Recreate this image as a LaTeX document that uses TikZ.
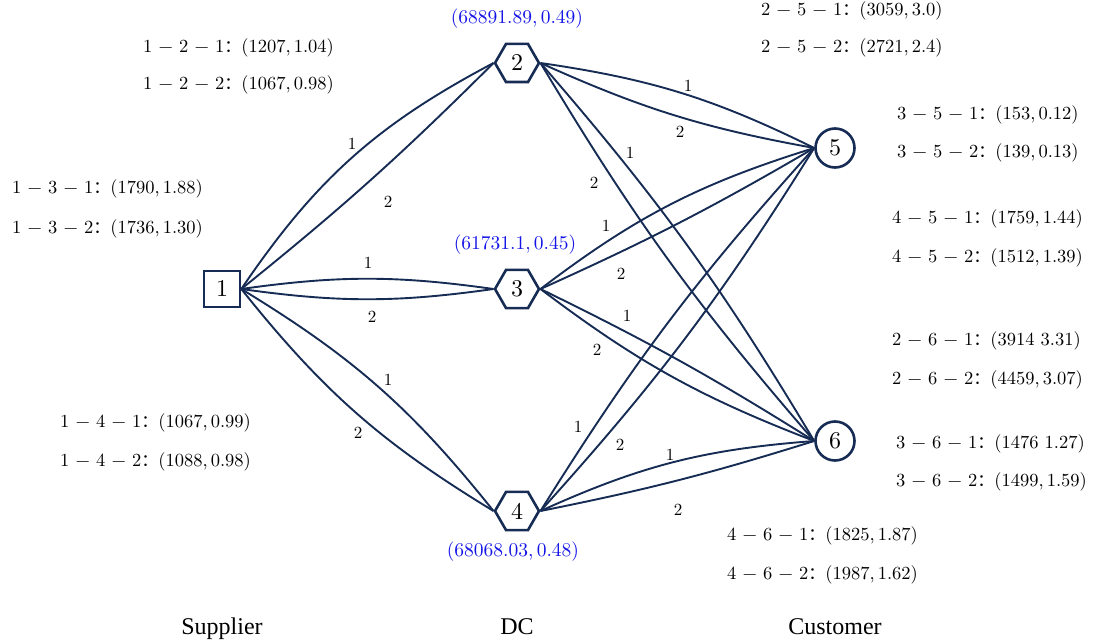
\documentclass[tikz,border=0pt]{standalone}
\usepackage{fontspec}
% one design size, scaled linearly
\setmainfont{lmroman10-regular}[Extension=.otf]
\newfontfamily\cjk{Noto Sans CJK SC}
\newfontfamily\timesfont{Liberation Serif}
\usetikzlibrary{shapes.geometric}
\definecolor{navy}{RGB}{22,44,84}
\definecolor{valblue}{RGB}{20,20,230}
% arc cost/time pair: i - j - k : (cost, time)
\newcommand{\arcval}[4]{#1 − #2 − #3{\cjk\fontsize{17}{20}\selectfont ：}#4}
\tikzset{
  sup/.style={draw=navy, line width=2.6pt, rectangle, minimum size=36pt, inner sep=0pt, font=\fontsize{24}{28}\selectfont},
  dc/.style={draw=navy, line width=2.6pt, regular polygon, regular polygon sides=6, minimum size=44pt, inner sep=0pt, font=\fontsize{24}{28}\selectfont},
  cus/.style={draw=navy, line width=2.6pt, circle, minimum size=39pt, inner sep=0pt, font=\fontsize{24}{28}\selectfont},
  link/.style={draw=navy, line width=1.9pt},
  lab/.style={font=\fontsize{17}{20}\selectfont, inner sep=0pt},
  pair/.style={anchor=west, font=\fontsize{18.5}{22}\selectfont, inner sep=0pt},
  val/.style={text=valblue, font=\fontsize{19.5}{23}\selectfont, inner sep=0pt},
  tier/.style={font=\timesfont\fontsize{24}{28}\selectfont, inner sep=0pt}
}
\begin{document}
\begin{tikzpicture}[x=1pt,y=1pt]
\useasboundingbox (0,0) rectangle (1096,-644);

% nodes
\node[sup] (n1) at (222,-289) {1};
\node[dc]  (n2) at (517,-63)  {2};
\node[dc]  (n3) at (517,-289) {3};
\node[dc]  (n4) at (517,-511) {4};
\node[cus] (n5) at (835,-148) {5};
\node[cus] (n6) at (835,-441) {6};

% supplier -> DC
\draw[link] (n1.east) to[bend left=14] (n2.west);
\draw[link] (n1.east) to[bend right=3] (n2.west);
\draw[link] (n1.east) to[bend left=8] (n3.west);
\draw[link] (n1.east) to[bend right=8] (n3.west);
\draw[link] (n1.east) to[bend left=10] (n4.west);
\draw[link] (n1.east) to[bend right=10] (n4.west);

% DC -> customer
\draw[link] (n2.east) to[bend left=9] (n5.west);
\draw[link] (n2.east) to[bend right=7] (n5.west);
\draw[link] (n2.east) to[bend left=5] (n6.west);
\draw[link] (n2.east) to[bend right=5] (n6.west);
\draw[link] (n3.east) to[bend left=10] (n5.west);
\draw[link] (n3.east) to[bend right=3] (n5.west);
\draw[link] (n3.east) to[bend left=3] (n6.west);
\draw[link] (n3.east) to[bend right=8] (n6.west);
\draw[link] (n4.east) to[bend left=5] (n5.west);
\draw[link] (n4.east) to[bend right=5] (n5.west);
\draw[link] (n4.east) to[bend left=10] (n6.west);
\draw[link] (n4.east) to[bend right=3] (n6.west);

% arc numbers
\node[lab] (l121) at (352,-144) {1};
\node[lab] (l122) at (388,-202) {2};
\node[lab] (l131) at (368,-263) {1};
\node[lab] (l132) at (372,-317) {2};
\node[lab] (l141) at (388,-380) {1};
\node[lab] (l142) at (358,-433) {2};
\node[lab] (l251) at (688,-86)  {1};
\node[lab] (l252) at (680,-132) {2};
\node[lab] (l261) at (630,-153) {1};
\node[lab] (l262) at (594,-183) {2};
\node[lab] (l351) at (606,-226) {1};
\node[lab] (l352) at (621,-274) {2};
\node[lab] (l361) at (627,-316) {1};
\node[lab] (l362) at (597,-350) {2};
\node[lab] (l451) at (578,-427) {1};
\node[lab] (l452) at (620,-445) {2};
\node[lab] (l461) at (670,-455) {1};
\node[lab] (l462) at (678,-510) {2};

% DC values
\node[val] (v2) at (517,-19)  {(68891.89,\,0.49)};
\node[val] (v3) at (515,-245) {(61731.1,\,0.45)};
\node[val] (v4) at (513,-552) {(68068.03,\,0.48)};

% arc cost / time pairs
\node[pair] (p121) at (143,-48)  {\arcval{1}{2}{1}{(1207,\,1.04)}};
\node[pair] (p122) at (143,-85)  {\arcval{1}{2}{2}{(1067,\,0.98)}};
\node[pair] (p131) at (12,-189)  {\arcval{1}{3}{1}{(1790,\,1.88)}};
\node[pair] (p132) at (12,-229)  {\arcval{1}{3}{2}{(1736,\,1.30)}};
\node[pair] (p141) at (60,-423)  {\arcval{1}{4}{1}{(1067,\,0.99)}};
\node[pair] (p142) at (60,-462)  {\arcval{1}{4}{2}{(1088,\,0.98)}};
\node[pair] (p251) at (761,-11)  {\arcval{2}{5}{1}{(3059,\,3.0)}};
\node[pair] (p252) at (761,-48)  {\arcval{2}{5}{2}{(2721,\,2.4)}};
\node[pair] (p351) at (897,-115) {\arcval{3}{5}{1}{(153,\,0.12)}};
\node[pair] (p352) at (897,-153) {\arcval{3}{5}{2}{(139,\,0.13)}};
\node[pair] (p451) at (892,-219) {\arcval{4}{5}{1}{(1759,\,1.44)}};
\node[pair] (p452) at (892,-258) {\arcval{4}{5}{2}{(1512,\,1.39)}};
\node[pair] (p261) at (892,-341) {\arcval{2}{6}{1}{(3914\,\,3.31)}};
\node[pair] (p262) at (892,-380) {\arcval{2}{6}{2}{(4459,\,3.07)}};
\node[pair] (p361) at (896,-444) {\arcval{3}{6}{1}{(1476\,\,1.27)}};
\node[pair] (p362) at (896,-482) {\arcval{3}{6}{2}{(1499,\,1.59)}};
\node[pair] (p461) at (727,-536) {\arcval{4}{6}{1}{(1825,\,1.87)}};
\node[pair] (p462) at (727,-575) {\arcval{4}{6}{2}{(1987,\,1.62)}};

% tier captions
\node[tier,anchor=base] (t1) at (222,-634) {Supplier};
\node[tier,anchor=base] (t2) at (517,-634) {DC};
\node[tier,anchor=base] (t3) at (835,-634) {Customer};
\end{tikzpicture}
\end{document}
